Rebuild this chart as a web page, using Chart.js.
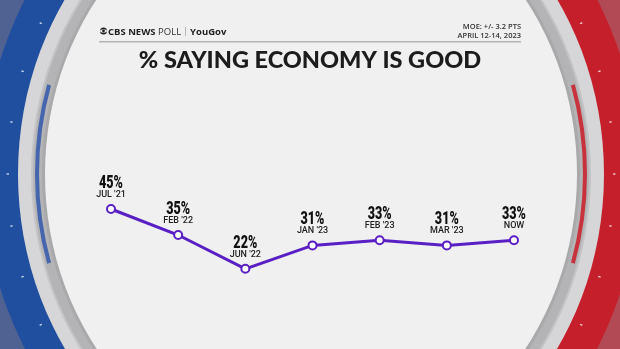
<!DOCTYPE html>
<html>
<head>
<meta charset="utf-8">
<script src="https://cdn.jsdelivr.net/npm/chart.js@4"></script>
<style>
  html, body { margin: 0; padding: 0; background: #f0f0f0; }
  #wrap { width: 620px; height: 349px; position: relative; }
</style>
</head>
<body>
<div id="wrap"><canvas id="grafico" width="620" height="349"></canvas></div>
<script>
// Datos del gráfico
const fechas = ["JUL '21", "FEB '22", "JUN '22", "JAN '23", "FEB '23", "MAR '23", "NOW"];
const valores = [45, 35, 22, 31, 33, 31, 33];
const titulo = "% SAYING ECONOMY IS GOOD";
const moe = ["MOE: +/- 3.2 PTS", "APRIL 12-14, 2023"];

const morado = '#5a1fc4';

// Fondo con los aros azul / rojo
const fondoPlugin = {
  id: 'fondo',
  beforeDraw(chart) {
    const ctx = chart.ctx;
    const cx = 311, cy = 174, rx = 266, ry = 295;

    function elipse(d) {
      ctx.beginPath();
      ctx.ellipse(cx, cy, rx + d, ry + d, 0, 0, Math.PI * 2);
    }
    function mitad(izq, fn) {
      ctx.save();
      ctx.beginPath();
      if (izq) ctx.rect(0, 0, cx, 349); else ctx.rect(cx, 0, 620 - cx, 349);
      ctx.clip();
      fn();
      ctx.restore();
    }

    ctx.save();
    mitad(true, () => { ctx.fillStyle = '#4f6292'; ctx.fillRect(0, 0, 620, 349); });
    mitad(false, () => { ctx.fillStyle = '#b24a56'; ctx.fillRect(0, 0, 620, 349); });

    mitad(true, () => { elipse(62); ctx.fillStyle = '#1f4f9e'; ctx.fill(); });
    mitad(false, () => { elipse(62); ctx.fillStyle = '#c61f2c'; ctx.fill(); });

    // marcas blancas en la banda
    ctx.strokeStyle = 'rgba(255,255,255,0.8)';
    ctx.lineWidth = 1.3;
    for (let a = 0; a < 360; a += 9) {
      const t = a * Math.PI / 180;
      const x1 = cx + (rx + 36) * Math.cos(t), y1 = cy + (ry + 36) * Math.sin(t);
      const x2 = cx + (rx + 38.5) * Math.cos(t), y2 = cy + (ry + 38.5) * Math.sin(t);
      ctx.beginPath(); ctx.moveTo(x1, y1); ctx.lineTo(x2, y2); ctx.stroke();
    }

    elipse(27); ctx.fillStyle = '#d6d6d8'; ctx.fill();
    elipse(14); ctx.fillStyle = '#c4c4c6'; ctx.fill();
    elipse(12); ctx.fillStyle = '#b4b4b6'; ctx.fill();

    // arcos finos de color
    ctx.lineWidth = 4;
    ctx.strokeStyle = '#4565ad';
    ctx.beginPath(); ctx.ellipse(cx, cy, rx + 8, ry + 8, 0, Math.PI * 0.905, Math.PI * 1.095); ctx.stroke();
    ctx.strokeStyle = '#c8323c';
    ctx.beginPath(); ctx.ellipse(cx, cy, rx + 8, ry + 8, 0, -Math.PI * 0.095, Math.PI * 0.095); ctx.stroke();

    elipse(3); ctx.fillStyle = '#a9a9ab'; ctx.fill();
    elipse(0); ctx.fillStyle = '#f0f0f0'; ctx.fill();

    // cabecera
    ctx.fillStyle = '#222';
    ctx.textBaseline = 'alphabetic';
    ctx.beginPath(); ctx.arc(103.5, 31, 3.5, 0, Math.PI * 2); ctx.fill();
    ctx.fillStyle = '#f0f0f0';
    ctx.beginPath(); ctx.ellipse(103.5, 31, 3.4, 1.7, 0, 0, Math.PI * 2); ctx.fill();
    ctx.fillStyle = '#222';
    ctx.beginPath(); ctx.arc(103.5, 31, 1.4, 0, Math.PI * 2); ctx.fill();

    ctx.textAlign = 'left';
    let x = 108;
    ctx.font = 'bold 9.5px "Open Sans", sans-serif';
    ctx.fillText('CBS NEWS', x, 34.5);
    x += ctx.measureText('CBS NEWS ').width;
    ctx.font = '9.5px "Open Sans", sans-serif';
    ctx.fillStyle = '#333';
    ctx.fillText('POLL', x, 34.5);
    x += ctx.measureText('POLL').width + 4;
    ctx.fillStyle = '#aaa';
    ctx.fillRect(x, 27, 0.8, 9);
    x += 5;
    ctx.fillStyle = '#222';
    ctx.font = 'bold 9.5px "Open Sans", sans-serif';
    ctx.fillText('YouGov', x, 34.5);

    ctx.textAlign = 'right';
    ctx.font = '600 7.5px "Open Sans", sans-serif';
    ctx.fillStyle = '#333';
    ctx.fillText(moe[0], 521, 29);
    ctx.fillText(moe[1], 521, 37.5);

    ctx.fillStyle = '#b3b3b3';
    ctx.fillRect(99, 41, 422, 1.5);

    // título
    ctx.textAlign = 'center';
    ctx.fillStyle = '#1c1c1c';
    ctx.font = '900 23.5px Lato, "Open Sans", sans-serif';
    ctx.fillText(titulo, 310, 68);
    ctx.restore();
  }
};

// Etiquetas encima de cada punto
const etiquetasPlugin = {
  id: 'etiquetas',
  afterDatasetsDraw(chart) {
    const ctx = chart.ctx;
    const meta = chart.getDatasetMeta(0);
    ctx.save();
    ctx.textAlign = 'center';
    ctx.textBaseline = 'alphabetic';
    meta.data.forEach((p, i) => {
      // porcentaje en letra estrecha (escalado horizontal)
      ctx.save();
      ctx.translate(p.x, p.y - 21);
      ctx.scale(0.7, 1);
      ctx.fillStyle = '#111';
      ctx.font = '900 18px Roboto, sans-serif';
      ctx.fillText(valores[i] + '%', 0, 0);
      ctx.restore();
      ctx.fillStyle = '#222';
      ctx.font = '500 9px Roboto, "Open Sans", sans-serif';
      ctx.fillText(fechas[i], p.x, p.y - 12);
    });
    ctx.restore();
  }
};

const ctx = document.getElementById('grafico').getContext('2d');
const grafico = new Chart(ctx, {
  type: 'line',
  data: {
    labels: fechas,
    datasets: [{
      data: valores,
      borderColor: morado,
      borderWidth: 3,
      pointRadius: 4,
      pointBorderWidth: 2,
      pointBackgroundColor: '#ffffff',
      pointBorderColor: morado,
      tension: 0
    }]
  },
  options: {
    responsive: false,
    animation: false,
    layout: { padding: { left: 111, right: 106, top: 170, bottom: 23 } },
    plugins: {
      legend: { display: false },
      tooltip: { enabled: false }
    },
    scales: {
      x: { display: false },
      y: { display: false, min: 0, max: 60 }
    }
  },
  plugins: [fondoPlugin, etiquetasPlugin]
});
</script>
</body>
</html>
